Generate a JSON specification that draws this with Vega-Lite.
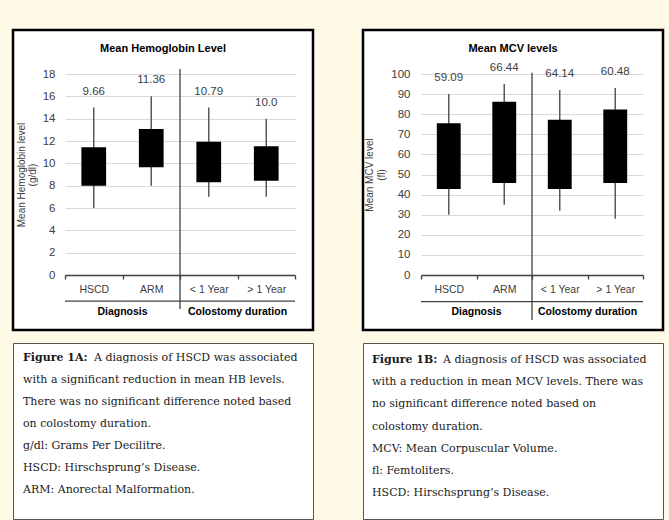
{
  "$schema": "https://vega.github.io/schema/vega-lite/v6.json",
  "background": "#fffae8",
  "padding": {"left": 11, "top": 28, "right": 12, "bottom": 3},
  "spacing": 46,
  "config": {
    "font": "Liberation Sans",
    "axis": {"labelFont": "Liberation Sans", "titleFont": "Liberation Sans"},
    "title": {"font": "Liberation Sans"},
    "text": {"font": "Liberation Sans"}
  },
  "hconcat": [
    {
      "bounds": "flush",
      "spacing": 13,
      "vconcat": [
        {
          "width": 300,
          "height": 300,
          "view": {"stroke": "#000000", "strokeWidth": 2.5, "fill": "white"},
          "title": {"text": "Mean Hemoglobin Level", "offset": -24, "frame": "group", "anchor": "middle", "fontSize": 11, "fontWeight": "bold", "color": "#000000"},
          "data": {"values": [
            {"cat": "HSCD", "low": 6, "q1": 8.0, "q3": 11.43, "high": 15, "mean": "9.66"},
            {"cat": "ARM", "low": 8, "q1": 9.64, "q3": 13.07, "high": 16, "mean": "11.36"},
            {"cat": "< 1 Year", "low": 7, "q1": 8.3, "q3": 11.94, "high": 15, "mean": "10.79"},
            {"cat": "> 1 Year", "low": 7, "q1": 8.45, "q3": 11.52, "high": 14, "mean": "10.0"}
          ]},
          "encoding": {
            "x": {
              "field": "cat", "type": "nominal",
              "scale": {"domain": ["HSCD", "ARM", "< 1 Year", "> 1 Year"], "range": [52, 282], "paddingInner": 0, "paddingOuter": 0},
              "axis": {"orient": "bottom", "offset": -55, "title": null, "domain": true, "domainColor": "#404040", "domainWidth": 1.3, "ticks": true, "tickBand": "extent", "tickSize": 4, "tickColor": "#404040", "tickWidth": 1.3, "labelAngle": 0, "labelPadding": 5, "labelFontSize": 10.5, "labelColor": "#404040", "grid": false}
            }
          },
          "layer": [
            {
              "mark": {"type": "rule", "color": "#595959", "strokeWidth": 1.5},
              "encoding": {
                "y": {"field": "low", "type": "quantitative",
                  "scale": {"domain": [0, 18], "range": [245, 44], "nice": false, "zero": false},
                  "axis": {"orient": "left", "offset": -52, "values": [0, 2, 4, 6, 8, 10, 12, 14, 16, 18], "labelOverlap": false, "domain": false, "ticks": false, "labelPadding": 10, "labelFontSize": 11.5, "labelColor": "#404040", "grid": true, "gridColor": "#d9d9d9", "gridWidth": 1,
                    "title": ["Mean Hemoglobin level", "(g/dl)"], "titleFontSize": 10, "titleFontWeight": "normal", "titleColor": "#404040", "titlePadding": 5, "titleLineHeight": 11}},
                "y2": {"field": "high"}
              }
            },
            {
              "mark": {"type": "bar", "color": "#000000", "width": {"band": 0.43}},
              "encoding": {"y": {"field": "q1", "type": "quantitative",
                  "axis": {"orient": "left", "offset": -52, "values": [0, 2, 4, 6, 8, 10, 12, 14, 16, 18], "labelOverlap": false, "domain": false, "ticks": false, "labelPadding": 10, "labelFontSize": 11.5, "labelColor": "#404040", "grid": true, "gridColor": "#d9d9d9", "gridWidth": 1,
                    "title": ["Mean Hemoglobin level", "(g/dl)"], "titleFontSize": 10, "titleFontWeight": "normal", "titleColor": "#404040", "titlePadding": 5, "titleLineHeight": 11}},
                "y2": {"field": "q3"}}
            },
            {
              "mark": {"type": "text", "dy": -16, "baseline": "middle", "fontSize": 11.5, "color": "#404040"},
              "encoding": {"y": {"field": "high", "type": "quantitative",
                  "axis": {"orient": "left", "offset": -52, "values": [0, 2, 4, 6, 8, 10, 12, 14, 16, 18], "labelOverlap": false, "domain": false, "ticks": false, "labelPadding": 10, "labelFontSize": 11.5, "labelColor": "#404040", "grid": true, "gridColor": "#d9d9d9", "gridWidth": 1,
                    "title": ["Mean Hemoglobin level", "(g/dl)"], "titleFontSize": 10, "titleFontWeight": "normal", "titleColor": "#404040", "titlePadding": 5, "titleLineHeight": 11}},
                "text": {"field": "mean"}}
            },
            {
              "mark": {"type": "bar", "color": "#404040"},
              "encoding": {"y": {"datum": -2.28, "type": "quantitative",
                  "axis": {"orient": "left", "offset": -52, "values": [0, 2, 4, 6, 8, 10, 12, 14, 16, 18], "labelOverlap": false, "domain": false, "ticks": false, "labelPadding": 10, "labelFontSize": 11.5, "labelColor": "#404040", "grid": true, "gridColor": "#d9d9d9", "gridWidth": 1,
                    "title": ["Mean Hemoglobin level", "(g/dl)"], "titleFontSize": 10, "titleFontWeight": "normal", "titleColor": "#404040", "titlePadding": 5, "titleLineHeight": 11}},
                "y2": {"datum": -2.4}}
            },
            {
              "data": {"values": [{}]},
              "mark": {"type": "rule", "color": "#404040", "strokeWidth": 1.3},
              "encoding": {"x": {"datum": "< 1 Year", "type": "nominal", "bandPosition": 0},
                "y": {"datum": 18.45, "type": "quantitative",
                  "axis": {"orient": "left", "offset": -52, "values": [0, 2, 4, 6, 8, 10, 12, 14, 16, 18], "labelOverlap": false, "domain": false, "ticks": false, "labelPadding": 10, "labelFontSize": 11.5, "labelColor": "#404040", "grid": true, "gridColor": "#d9d9d9", "gridWidth": 1,
                    "title": ["Mean Hemoglobin level", "(g/dl)"], "titleFontSize": 10, "titleFontWeight": "normal", "titleColor": "#404040", "titlePadding": 5, "titleLineHeight": 11}},
                "y2": {"datum": -3.05}}
            },
            {
              "data": {"values": [{"group": "Diagnosis", "at": "ARM"}, {"group": "Colostomy duration", "at": "> 1 Year"}]},
              "mark": {"type": "text", "fontWeight": "bold", "fontSize": 10.5, "color": "#000000", "baseline": "middle"},
              "encoding": {"x": {"field": "at", "type": "nominal", "bandPosition": 0},
                "y": {"datum": -3.35, "type": "quantitative",
                  "axis": {"orient": "left", "offset": -52, "values": [0, 2, 4, 6, 8, 10, 12, 14, 16, 18], "labelOverlap": false, "domain": false, "ticks": false, "labelPadding": 10, "labelFontSize": 11.5, "labelColor": "#404040", "grid": true, "gridColor": "#d9d9d9", "gridWidth": 1,
                    "title": ["Mean Hemoglobin level", "(g/dl)"], "titleFontSize": 10, "titleFontWeight": "normal", "titleColor": "#404040", "titlePadding": 5, "titleLineHeight": 11}},
                "text": {"field": "group"}}
            }
          ]
        },
        {
          "width": 300,
          "height": 176,
          "view": {"stroke": "#555555", "strokeWidth": 1, "fill": "white"},
          "data": {"values": [
            {"line": 1, "part": "label", "text": "Figure 1A:"},
            {"line": 1, "part": "rest", "text": "A diagnosis of HSCD was associated"},
            {"line": 2, "part": "body", "text": "with a significant reduction in mean HB levels."},
            {"line": 3, "part": "body", "text": "There was no significant difference noted based"},
            {"line": 4, "part": "body", "text": "on colostomy duration."},
            {"line": 5, "part": "body", "text": "g/dl: Grams Per Decilitre."},
            {"line": 6, "part": "body", "text": "HSCD: Hirschsprung’s Disease."},
            {"line": 7, "part": "body", "text": "ARM: Anorectal Malformation."}
          ]},
          "encoding": {
            "y": {"field": "line", "type": "ordinal", "scale": {"type": "point", "range": [15, 147], "padding": 0}, "axis": null},
            "x": {"datum": 0, "type": "quantitative", "scale": {"domain": [0, 1], "range": [10, 300]}, "axis": null},
            "text": {"field": "text"}
          },
          "layer": [
            {"transform": [{"filter": "datum.part === 'label'"}], "mark": {"type": "text", "align": "left", "baseline": "middle", "font": "DejaVu Serif", "fontSize": 11, "fontWeight": "bold", "color": "#1a1a1a"}},
            {"transform": [{"filter": "datum.part === 'rest'"}], "mark": {"type": "text", "align": "left", "baseline": "middle", "font": "DejaVu Serif", "fontSize": 11, "color": "#1a1a1a", "dx": 71}},
            {"transform": [{"filter": "datum.part === 'body'"}], "mark": {"type": "text", "align": "left", "baseline": "middle", "font": "DejaVu Serif", "fontSize": 11, "color": "#1a1a1a"}}
          ]
        }
      ]
    },
    {
      "bounds": "flush",
      "spacing": 13,
      "vconcat": [
        {
          "width": 300,
          "height": 300,
          "view": {"stroke": "#000000", "strokeWidth": 2.5, "fill": "white"},
          "title": {"text": "Mean MCV levels", "offset": -24, "frame": "group", "anchor": "middle", "fontSize": 11, "fontWeight": "bold", "color": "#000000"},
          "data": {"values": [
            {"cat": "HSCD", "low": 30, "q1": 42.8, "q3": 75.5, "high": 90, "mean": "59.09"},
            {"cat": "ARM", "low": 35, "q1": 45.8, "q3": 86.2, "high": 95, "mean": "66.44"},
            {"cat": "< 1 Year", "low": 32, "q1": 42.8, "q3": 77.3, "high": 92, "mean": "64.14"},
            {"cat": "> 1 Year", "low": 28, "q1": 45.8, "q3": 82.3, "high": 93, "mean": "60.48"}
          ]},
          "encoding": {
            "x": {
              "field": "cat", "type": "nominal",
              "scale": {"domain": ["HSCD", "ARM", "< 1 Year", "> 1 Year"], "range": [58, 280], "paddingInner": 0, "paddingOuter": 0},
              "axis": {"orient": "bottom", "offset": -55, "title": null, "domain": true, "domainColor": "#404040", "domainWidth": 1.3, "ticks": true, "tickBand": "extent", "tickSize": 4, "tickColor": "#404040", "tickWidth": 1.3, "labelAngle": 0, "labelPadding": 5, "labelFontSize": 10.5, "labelColor": "#404040", "grid": false}
            }
          },
          "layer": [
            {
              "mark": {"type": "rule", "color": "#595959", "strokeWidth": 1.5},
              "encoding": {
                "y": {"field": "low", "type": "quantitative",
                  "scale": {"domain": [0, 100], "range": [245, 44], "nice": false, "zero": false},
                  "axis": {"orient": "left", "offset": -58, "values": [0, 10, 20, 30, 40, 50, 60, 70, 80, 90, 100], "labelOverlap": false, "domain": false, "ticks": false, "labelPadding": 11, "labelFontSize": 11.5, "labelColor": "#404040", "grid": true, "gridColor": "#d9d9d9", "gridWidth": 1,
                    "title": ["Mean MCV level", "(fl)"], "titleFontSize": 10, "titleFontWeight": "normal", "titleColor": "#404040", "titlePadding": 4, "titleLineHeight": 12}},
                "y2": {"field": "high"}
              }
            },
            {
              "mark": {"type": "bar", "color": "#000000", "width": {"band": 0.43}},
              "encoding": {"y": {"field": "q1", "type": "quantitative",
                  "axis": {"orient": "left", "offset": -58, "values": [0, 10, 20, 30, 40, 50, 60, 70, 80, 90, 100], "labelOverlap": false, "domain": false, "ticks": false, "labelPadding": 11, "labelFontSize": 11.5, "labelColor": "#404040", "grid": true, "gridColor": "#d9d9d9", "gridWidth": 1,
                    "title": ["Mean MCV level", "(fl)"], "titleFontSize": 10, "titleFontWeight": "normal", "titleColor": "#404040", "titlePadding": 4, "titleLineHeight": 12}},
                "y2": {"field": "q3"}}
            },
            {
              "mark": {"type": "text", "dy": -16, "baseline": "middle", "fontSize": 11.5, "color": "#404040"},
              "encoding": {"y": {"field": "high", "type": "quantitative",
                  "axis": {"orient": "left", "offset": -58, "values": [0, 10, 20, 30, 40, 50, 60, 70, 80, 90, 100], "labelOverlap": false, "domain": false, "ticks": false, "labelPadding": 11, "labelFontSize": 11.5, "labelColor": "#404040", "grid": true, "gridColor": "#d9d9d9", "gridWidth": 1,
                    "title": ["Mean MCV level", "(fl)"], "titleFontSize": 10, "titleFontWeight": "normal", "titleColor": "#404040", "titlePadding": 4, "titleLineHeight": 12}},
                "text": {"field": "mean"}}
            },
            {
              "mark": {"type": "bar", "color": "#404040"},
              "encoding": {"y": {"datum": -12.9, "type": "quantitative",
                  "axis": {"orient": "left", "offset": -58, "values": [0, 10, 20, 30, 40, 50, 60, 70, 80, 90, 100], "labelOverlap": false, "domain": false, "ticks": false, "labelPadding": 11, "labelFontSize": 11.5, "labelColor": "#404040", "grid": true, "gridColor": "#d9d9d9", "gridWidth": 1,
                    "title": ["Mean MCV level", "(fl)"], "titleFontSize": 10, "titleFontWeight": "normal", "titleColor": "#404040", "titlePadding": 4, "titleLineHeight": 12}},
                "y2": {"datum": -13.55}}
            },
            {
              "data": {"values": [{}]},
              "mark": {"type": "rule", "color": "#404040", "strokeWidth": 1.3},
              "encoding": {"x": {"datum": "< 1 Year", "type": "nominal", "bandPosition": 0},
                "y": {"datum": 100.6, "type": "quantitative",
                  "axis": {"orient": "left", "offset": -58, "values": [0, 10, 20, 30, 40, 50, 60, 70, 80, 90, 100], "labelOverlap": false, "domain": false, "ticks": false, "labelPadding": 11, "labelFontSize": 11.5, "labelColor": "#404040", "grid": true, "gridColor": "#d9d9d9", "gridWidth": 1,
                    "title": ["Mean MCV level", "(fl)"], "titleFontSize": 10, "titleFontWeight": "normal", "titleColor": "#404040", "titlePadding": 4, "titleLineHeight": 12}},
                "y2": {"datum": -22.4}}
            },
            {
              "data": {"values": [{"group": "Diagnosis", "at": "ARM"}, {"group": "Colostomy duration", "at": "> 1 Year"}]},
              "mark": {"type": "text", "fontWeight": "bold", "fontSize": 10.5, "color": "#000000", "baseline": "middle"},
              "encoding": {"x": {"field": "at", "type": "nominal", "bandPosition": 0},
                "y": {"datum": -18.4, "type": "quantitative",
                  "axis": {"orient": "left", "offset": -58, "values": [0, 10, 20, 30, 40, 50, 60, 70, 80, 90, 100], "labelOverlap": false, "domain": false, "ticks": false, "labelPadding": 11, "labelFontSize": 11.5, "labelColor": "#404040", "grid": true, "gridColor": "#d9d9d9", "gridWidth": 1,
                    "title": ["Mean MCV level", "(fl)"], "titleFontSize": 10, "titleFontWeight": "normal", "titleColor": "#404040", "titlePadding": 4, "titleLineHeight": 12}},
                "text": {"field": "group"}}
            }
          ]
        },
        {
          "width": 300,
          "height": 176,
          "view": {"stroke": "#555555", "strokeWidth": 1, "fill": "white"},
          "data": {"values": [
            {"line": 1, "part": "label", "text": "Figure 1B:"},
            {"line": 1, "part": "rest", "text": "A diagnosis of HSCD was associated"},
            {"line": 2, "part": "body", "text": "with a reduction in mean MCV levels. There was"},
            {"line": 3, "part": "body", "text": "no significant difference noted based on"},
            {"line": 4, "part": "body", "text": "colostomy duration."},
            {"line": 5, "part": "body", "text": "MCV: Mean Corpuscular Volume."},
            {"line": 6, "part": "body", "text": "fl: Femtoliters."},
            {"line": 7, "part": "body", "text": "HSCD: Hirschsprung’s Disease."}
          ]},
          "encoding": {
            "y": {"field": "line", "type": "ordinal", "scale": {"type": "point", "range": [17, 150], "padding": 0}, "axis": null},
            "x": {"datum": 0, "type": "quantitative", "scale": {"domain": [0, 1], "range": [9, 300]}, "axis": null},
            "text": {"field": "text"}
          },
          "layer": [
            {"transform": [{"filter": "datum.part === 'label'"}], "mark": {"type": "text", "align": "left", "baseline": "middle", "font": "DejaVu Serif", "fontSize": 11, "fontWeight": "bold", "color": "#1a1a1a"}},
            {"transform": [{"filter": "datum.part === 'rest'"}], "mark": {"type": "text", "align": "left", "baseline": "middle", "font": "DejaVu Serif", "fontSize": 11, "color": "#1a1a1a", "dx": 71}},
            {"transform": [{"filter": "datum.part === 'body'"}], "mark": {"type": "text", "align": "left", "baseline": "middle", "font": "DejaVu Serif", "fontSize": 11, "color": "#1a1a1a"}}
          ]
        }
      ]
    }
  ]
}
